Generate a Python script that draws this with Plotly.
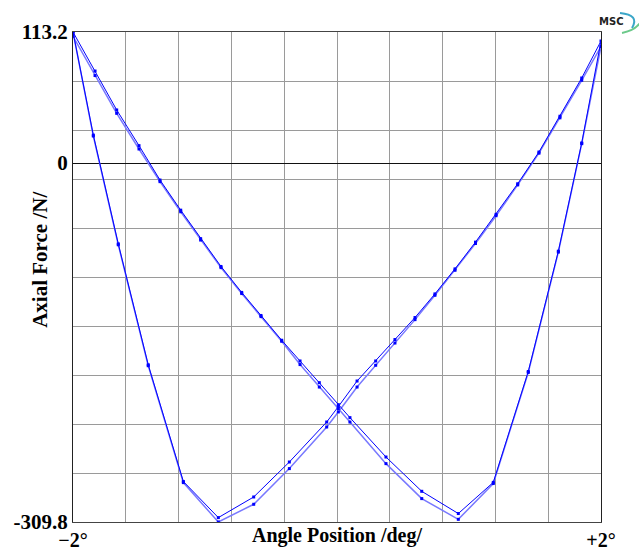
import plotly.graph_objects as go

# Angle sweep from -2 deg to +2 deg (forward) and back (backward), two cycles
fwd_x = [-2.000, -1.833, -1.669, -1.500, -1.341, -1.184, -1.033, -0.879, -0.722, -0.576,
         -0.419, -0.280, -0.134, 0.010, 0.098, 0.371, 0.642, 0.919, 1.184, 1.449,
         1.677, 1.854, 2.000]
fwd_c1 = [113.2, 79.5, 45.9, 15.1, -14.6, -40.6, -65.2, -89.2, -111.6, -131.5,
          -152.9, -170.8, -189.5, -208.5, -219.7, -253.7, -283.3, -302.5, -275.6, -179.9,
          -76.0, 17.4, 105.4]
fwd_c2 = [109.5, 75.6, 43.0, 12.2, -16.0, -42.0, -66.4, -90.2, -112.6, -132.5,
          -153.8, -173.9, -193.3, -211.9, -223.5, -259.4, -289.6, -307.5, -276.6, -180.7,
          -76.8, 16.8, 100.6]

bwd_x = [2.000, 1.854, 1.689, 1.530, 1.369, 1.205, 1.049, 0.894, 0.742, 0.591,
         0.439, 0.293, 0.152, 0.010, -0.078, -0.361, -0.631, -0.899, -1.164, -1.430,
         -1.657, -1.846, -2.000]
bwd_c1 = [105.4, 73.5, 40.5, 9.6, -17.8, -44.2, -68.2, -91.3, -112.9, -133.3,
          -152.3, -170.8, -188.1, -210.2, -223.5, -258.0, -288.2, -306.0, -274.8, -174.1,
          -69.7, 24.2, 113.2]
bwd_c2 = [100.6, 71.5, 39.1, 8.6, -18.8, -45.4, -69.4, -92.5, -114.1, -135.1,
          -155.3, -174.5, -193.3, -214.8, -227.8, -263.7, -294.5, -309.8, -275.8, -174.9,
          -70.5, 23.4, 113.2]

x_min, x_max = -2.0, 2.0
y_min, y_max = -309.8, 113.2
x_grid = [-2.0, -1.6, -1.2, -0.8, -0.4, 0.0, 0.4, 0.8, 1.2, 1.6, 2.0]
x_labels = ["\u22122\u00b0", "", "", "", "", "", "", "", "", "", "+2\u00b0"]
y_step = (y_max - y_min) / 10
y_grid = [round(y_max - k * y_step, 2) for k in range(11)]
y_ticks = y_grid + [0]
y_labels = ["113.2"] + [""] * 9 + ["-309.8"] + ["0"]

fig = go.Figure()
fig.add_trace(go.Scatter(
    x=fwd_x + bwd_x[1:], y=fwd_c2 + bwd_c2[1:], mode="lines+markers",
    line=dict(color="#7878ff", width=1.5),
    marker=dict(symbol="square", size=3, color="#0000ff"), showlegend=False))
fig.add_trace(go.Scatter(
    x=fwd_x + bwd_x[1:], y=fwd_c1 + bwd_c1[1:], mode="lines+markers",
    line=dict(color="#0000ff", width=1),
    marker=dict(symbol="square", size=3, color="#0000ff"), showlegend=False))

serif = "Liberation Serif, Times New Roman, serif"
fig.update_layout(
    width=639, height=550,
    margin=dict(l=73, r=38, t=32, b=28),
    paper_bgcolor="white", plot_bgcolor="white",
    xaxis=dict(range=[x_min, x_max], tickvals=x_grid, ticktext=x_labels,
               showgrid=True, gridcolor="#9a9a9a", gridwidth=1, zeroline=False,
               showline=True, linecolor="#444", linewidth=1, mirror=True,
               tickfont=dict(family=serif, size=20, color="black", weight="bold"),
               automargin=False, fixedrange=True),
    yaxis=dict(range=[y_min, y_max], tickvals=y_ticks, ticktext=y_labels,
               showgrid=True, gridcolor="#9a9a9a", gridwidth=1,
               zeroline=True, zerolinecolor="#111", zerolinewidth=1,
               showline=True, linecolor="#222", linewidth=1, mirror=True,
               tickfont=dict(family=serif, size=21, color="black", weight="bold"),
               automargin=False, fixedrange=True),
    annotations=[
        dict(text="Angle Position /deg/", xref="paper", yref="paper", x=0.5, y=-0.055,
             xanchor="center", yanchor="bottom", showarrow=False,
             font=dict(family=serif, size=20, color="black", weight="bold")),
        dict(text="Axial Force /N/", xref="paper", yref="paper", x=-0.0625, y=0.535,
             xanchor="center", yanchor="middle", showarrow=False, textangle=-90,
             font=dict(family=serif, size=21, color="black", weight="bold")),
        dict(text="MSC", xref="paper", yref="paper", x=1.019, y=1.022,
             xanchor="center", yanchor="middle", showarrow=False,
             font=dict(family="DejaVu Sans, sans-serif", size=10, color="#222", weight="bold")),
    ],
    shapes=[
        dict(type="path", xref="paper", yref="paper",
             path="M 1.036,1.0388 Q 1.0739,1.0347 1.0587,1.0082",
             line=dict(color="#3aa6c8", width=2)),
        dict(type="path", xref="paper", yref="paper",
             path="M 1.0398,0.998 Q 1.0701,1.0041 1.0795,1.0286",
             line=dict(color="#6cc98a", width=2)),
    ],
)

fig.write_html("out.html")
